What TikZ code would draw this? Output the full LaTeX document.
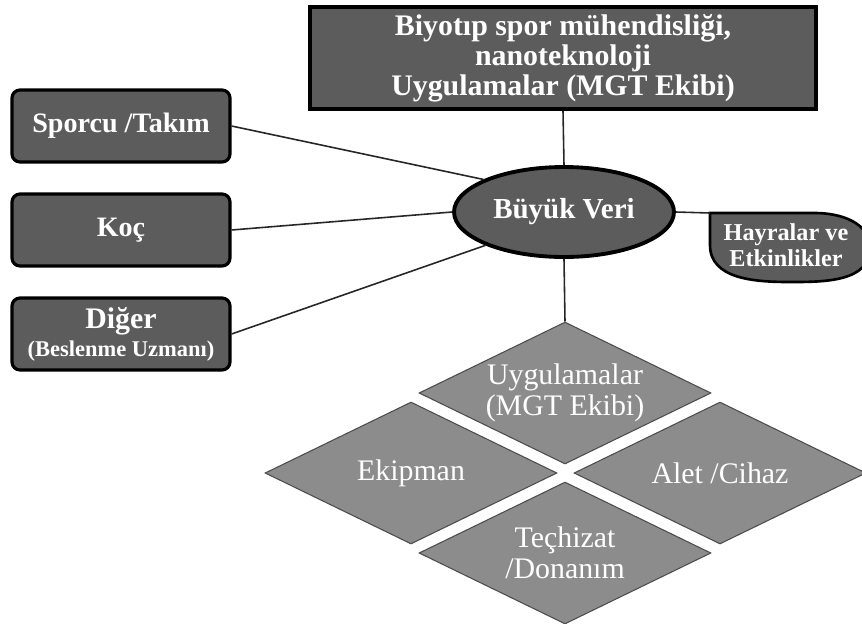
\documentclass[tikz,border=0pt]{standalone}
\usepackage{fontspec}
\setmainfont{Liberation Serif}
\usetikzlibrary{shapes.geometric}
\definecolor{mydark}{RGB}{92,92,92}
\definecolor{mygray}{RGB}{140,140,140}

\begin{document}
\begin{tikzpicture}[x=0.02cm, y=-0.02cm,
  box/.style={draw, line width=1.8pt, fill=mydark, text=white, rounded corners=4.5pt,
    minimum width=4.36cm, minimum height=1.44cm, align=center,
    font=\bfseries\fontsize{16}{17}\selectfont},
  tile/.style={diamond, draw=black!70, line width=0.6pt, fill=mygray, text=white,
    aspect=2.05, minimum width=5.84cm, minimum height=2.84cm, inner sep=0pt,
    align=center, font=\fontsize{17}{17.5}\selectfont},
  link/.style={line width=0.9pt, black!85}]
  \useasboundingbox (0,0) rectangle (862,623);

  % Top box
  \node[draw, line width=2pt, fill=mydark, text=white, minimum width=10.12cm, minimum height=2.04cm,
    align=center, font=\bfseries\fontsize{17}{17}\selectfont] (bio) at (563,58)
    {Biyotıp spor mühendisliği,\\nanoteknoloji\\Uygulamalar (MGT Ekibi)};

  % Big data
  \node[ellipse, draw, line width=2.2pt, fill=mydark, text=white, minimum width=4.4cm, minimum height=1.8cm,
    font=\bfseries\fontsize{16.5}{19}\selectfont] (veri) at (564,212) {Büyük Veri};

  % Left side
  \node[box] (sporcu) at (121,126) {Sporcu /Takım};
  \node[box] (koc) at (121,230) {Koç};
  \node[box, font=\bfseries\fontsize{17}{17}\selectfont] (diger) at (121,334)
    {Diğer\\[-1pt]{\fontsize{12.8}{14}\selectfont(Beslenme Uzmanı)}};

  % Right side
  \coordinate (hayc) at (710,213);
  \draw[line width=1.5pt, fill=mydark] (hayc) -- (815,213) to[out=0,in=90] (870,248)
    to[out=-90,in=0] (790,282) to[out=180,in=-90] (710,245) -- cycle;
  \node[text=white, align=center, font=\bfseries\fontsize{13.8}{15}\selectfont] (hay) at (786,245)
    {Hayralar ve\\Etkinlikler};

  % Tiles
  \node[tile] (uyg) at (565,393) {Uygulamalar\\(MGT Ekibi)};
  \node[tile] (ekip) at (411,473) {Ekipman};
  \node[tile] (alet) at (720,473) {Alet /Cihaz};
  \node[tile] (tec) at (565,553) {Teçhizat\\/Donanım};

  % Links
  \draw[link] (bio.south) -- (veri.north);
  \draw[link] (sporcu.east) -- (veri.158);
  \draw[link] (koc.east) -- (veri.west);
  \draw[link] (diger.east) -- (veri.203);
  \draw[link] (veri.east) -- (hayc);
  \draw[link] (veri.south) -- (uyg.north);
\end{tikzpicture}
\end{document}
